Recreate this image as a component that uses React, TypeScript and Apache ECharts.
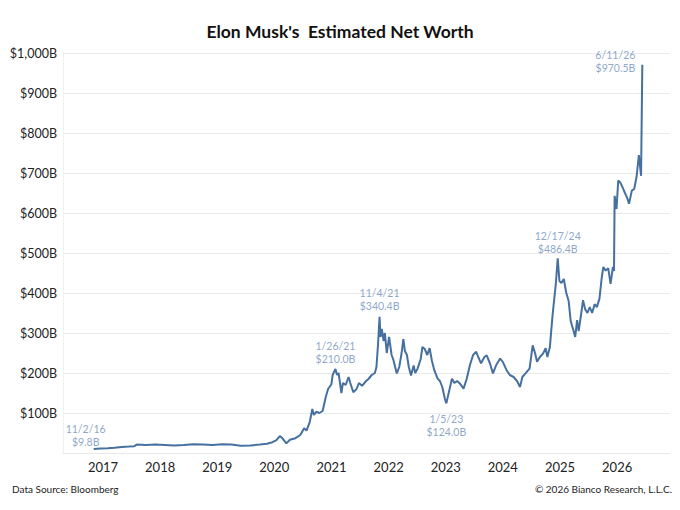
import React, { useEffect, useRef } from "react";
import * as echarts from "echarts";

const dates: string[] = [
  "2016-11-02", "2016-12-15", "2017-02-01", "2017-03-15", "2017-05-01", "2017-06-15", "2017-07-20", "2017-08-05",
  "2017-10-01", "2017-12-01", "2018-02-01", "2018-04-01", "2018-06-01", "2018-08-01", "2018-10-01", "2018-12-01",
  "2019-02-01", "2019-04-01", "2019-06-01", "2019-08-01", "2019-10-01", "2019-11-15", "2019-12-20", "2020-01-15",
  "2020-02-05", "2020-02-20", "2020-03-18", "2020-04-10", "2020-05-15", "2020-06-15", "2020-07-10", "2020-07-25",
  "2020-08-15", "2020-08-31", "2020-09-10", "2020-09-25", "2020-10-15", "2020-11-05", "2020-11-25", "2020-12-10",
  "2020-12-31", "2021-01-08", "2021-01-26", "2021-02-05", "2021-02-15", "2021-03-05", "2021-03-15", "2021-04-01",
  "2021-04-20", "2021-05-01", "2021-05-20", "2021-06-10", "2021-06-25", "2021-07-15", "2021-08-10", "2021-08-25",
  "2021-09-15", "2021-10-05", "2021-10-15", "2021-10-25", "2021-11-04", "2021-11-10", "2021-11-18", "2021-11-30",
  "2021-12-08", "2021-12-20", "2022-01-04", "2022-01-20", "2022-02-01", "2022-02-22", "2022-03-10", "2022-03-25",
  "2022-04-05", "2022-04-15", "2022-04-28", "2022-05-10", "2022-05-24", "2022-06-10", "2022-06-20", "2022-07-05",
  "2022-07-25", "2022-08-05", "2022-08-20", "2022-09-05", "2022-09-20", "2022-10-05", "2022-10-20", "2022-11-10",
  "2022-11-25", "2022-12-10", "2022-12-27", "2023-01-05", "2023-01-20", "2023-02-10", "2023-02-25", "2023-03-15",
  "2023-04-01", "2023-04-25", "2023-05-15", "2023-06-05", "2023-06-25", "2023-07-15", "2023-07-28", "2023-08-15",
  "2023-09-05", "2023-09-20", "2023-10-10", "2023-10-30", "2023-11-20", "2023-12-15", "2024-01-01", "2024-01-25",
  "2024-02-15", "2024-03-10", "2024-04-01", "2024-04-20", "2024-05-05", "2024-05-25", "2024-06-20", "2024-07-10",
  "2024-07-25", "2024-08-07", "2024-08-25", "2024-09-15", "2024-10-01", "2024-10-12", "2024-10-28", "2024-11-06",
  "2024-11-15", "2024-12-05", "2024-12-17", "2024-12-28", "2025-01-10", "2025-01-25", "2025-02-10", "2025-02-25",
  "2025-03-10", "2025-03-25", "2025-04-08", "2025-04-20", "2025-04-30", "2025-05-15", "2025-05-28", "2025-06-10",
  "2025-06-25", "2025-07-10", "2025-07-25", "2025-08-10", "2025-08-25", "2025-09-10", "2025-09-25", "2025-10-05",
  "2025-10-20", "2025-11-05", "2025-11-20", "2025-12-05", "2025-12-12", "2025-12-16", "2025-12-28", "2026-01-08",
  "2026-01-20", "2026-02-05", "2026-02-20", "2026-03-05", "2026-03-18", "2026-04-05", "2026-04-20", "2026-05-05",
  "2026-05-20", "2026-06-03", "2026-06-11",
];

const netWorth: number[] = [
  9.8, 11, 12, 13, 15, 16, 17, 21,
  20, 21, 20, 19, 20, 22, 21, 20,
  22, 21, 18, 19, 21, 23, 27, 32,
  42, 38, 24, 33, 37, 45, 62, 56,
  78, 110, 95, 103, 100, 105, 140, 160,
  172, 195, 210, 195, 200, 150, 175, 170,
  190, 175, 152, 160, 175, 168, 180, 185,
  195, 200, 215, 270, 340.4, 290, 310, 280,
  300, 250, 290, 245, 232, 199, 215, 250,
  285, 255, 245, 215, 194, 219, 200, 211,
  235, 265, 260, 245, 262, 230, 207, 186,
  180, 165, 135, 124, 150, 186, 175, 180,
  174, 161, 185, 220, 245, 253, 240, 224,
  240, 244, 225, 199, 220, 236, 228, 207,
  195, 190, 180, 165, 190, 199, 211, 269,
  250, 228, 240, 249, 262, 240, 265, 307,
  348, 423, 486.4, 430, 425, 435, 400, 380,
  330, 310, 290, 332, 305, 345, 382, 360,
  350, 365, 350, 372, 365, 386, 440, 465,
  456, 462, 423, 465, 455, 643, 610, 681,
  677, 664, 650, 639, 623, 656, 660, 690,
  745, 693, 970.5,
];

const annDates: string[] = ["2016-11-02", "2021-01-26", "2021-11-04", "2023-01-05", "2024-12-17", "2026-06-11"];
const annValues: number[] = [9.8, 210.0, 340.4, 124.0, 486.4, 970.5];
const annDateLabels: string[] = ["11/2/16", "1/26/21", "11/4/21", "1/5/23", "12/17/24", "6/11/26"];

const yTicks = { min: 0, max: 1000, step: 100 };
const titleText = "Elon Musk's  Estimated Net Worth";
const sourceText = "Data Source: Bloomberg";
const copyrightText = "\u00A9 2026 Bianco Research, L.L.C.";

const annPlacement: any[] = [
  { position: "top", distance: 1, offset: [-8, 0] },
  { position: "top", distance: 4, offset: [0, 0] },
  { position: "top", distance: 4, offset: [0, 0] },
  { position: "bottom", distance: 9, offset: [0, 0] },
  { position: "top", distance: 3, offset: [0, 0] },
  { position: "left", distance: 7, offset: [0, -3], align: "right" },
];

const withCommas = (n: number) => String(n).replace(/\B(?=(\d{3})+(?!\d))/g, ",");

export default function App() {
  const ref = useRef<HTMLDivElement>(null);
  useEffect(() => {
    if (!ref.current) return;
    const chart = echarts.init(ref.current, null, { renderer: "svg" });
    const font = "Lato, 'Noto Sans', sans-serif";
    const option: any = {
      animation: false,
      backgroundColor: "#ffffff",
      title: {
        text: titleText,
        left: "center",
        top: 17,
        textStyle: { fontFamily: font, fontSize: 17.5, fontWeight: "bold", color: "#111111" },
      },
      grid: { left: 63, right: 10, top: 53, bottom: 57, containLabel: false },
      xAxis: {
        type: "time",
        min: "2016-04-20",
        max: "2026-12-05",
        minInterval: 365 * 86400000,
        maxInterval: 366 * 86400000,
        axisLine: { show: true, lineStyle: { color: "#e8e8e8", width: 1 } },
        axisTick: { show: false },
        splitLine: { show: false },
        axisLabel: {
          fontFamily: font,
          fontSize: 13,
          color: "#222222",
          margin: 7,
          hideOverlap: false,
          formatter: (v: number) => {
            const d = new Date(v);
            return d.getMonth() === 0 && d.getDate() === 1 ? String(d.getFullYear()) : "";
          },
        },
      },
      yAxis: {
        type: "value",
        min: yTicks.min,
        max: yTicks.max,
        interval: yTicks.step,
        axisLine: { show: true, lineStyle: { color: "#f0f0f0" } },
        axisTick: { show: false },
        splitLine: { show: true, lineStyle: { color: "#ebebeb", width: 1 } },
        axisLabel: {
          fontFamily: font,
          fontSize: 12.5,
          color: "#222222",
          margin: 6,
          formatter: (v: number) => (v === 0 ? "" : "$" + withCommas(v) + "B"),
        },
      },
      series: [
        {
          type: "line",
          data: dates.map((d, i) => [d, netWorth[i]]),
          showSymbol: false,
          symbol: "none",
          lineStyle: { color: "#46709f", width: 2 },
          z: 2,
        },
        {
          type: "scatter",
          symbolSize: 0,
          itemStyle: { color: "transparent" },
          data: annDates.map((d, i) => ({
            value: [d, annValues[i]],
            label: { show: true, ...annPlacement[i] },
          })),
          label: {
            show: true,
            fontFamily: font,
            fontSize: 10.5,
            lineHeight: 13,
            color: "#6e8fbc",
            formatter: (p: any) => annDateLabels[p.dataIndex] + "\n$" + annValues[p.dataIndex].toFixed(1) + "B",
          },
          z: 3,
        },
      ],
      graphic: [
        {
          type: "text",
          left: 12,
          top: 484,
          style: { text: sourceText, fontFamily: font, fontSize: 10, fill: "#222222" },
        },
        {
          type: "text",
          right: 8,
          top: 484,
          style: { text: copyrightText, fontFamily: font, fontSize: 10, fill: "#222222" },
        },
      ],
    };
    chart.setOption(option);
    return () => chart.dispose();
  }, []);
  return (
    <div
      ref={ref}
      style={{ position: "fixed", left: 0, top: 0, width: 680, height: 510, background: "#fff" }}
    />
  );
}
